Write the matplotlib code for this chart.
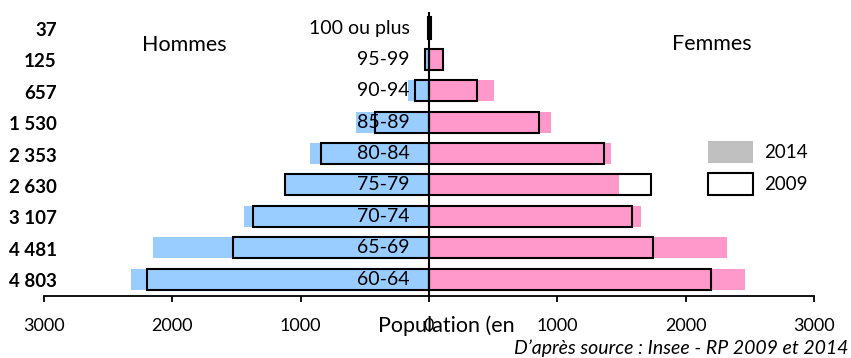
import matplotlib.pyplot as plt
from matplotlib.patches import Patch

plt.rcParams['font.family'] = ['Lato', 'DejaVu Sans']

# data (milliers), de 60-64 vers le haut
ages = ['60-64', '65-69', '70-74', '75-79', '80-84', '85-89', '90-94', '95-99', '100 ou plus']
hommes_2014 = [2323, 2153, 1438, 1125, 925, 567, 161, 25, 8]
femmes_2014 = [2463, 2323, 1653, 1484, 1419, 953, 505, 105, 15]
hommes_2009 = [2194, 1526, 1368, 1120, 839, 420, 111, 31, 10]
femmes_2009 = [2194, 1746, 1585, 1727, 1367, 857, 375, 109, 12]
totaux = ['4 803', '4 481', '3 107', '2 630', '2 353', '1 530', '657', '125', '37']
xticks = [-3000, -2000, -1000, 0, 1000, 2000, 3000]

fig = plt.figure(figsize=(8.51, 3.58), dpi=100)
ax = fig.add_axes([44/851, 1-296/358, 770/851, 284/358])

y = list(range(len(ages)))
h = 0.67

# 2014 : remplissage
ax.barh(y, [-v for v in hommes_2014], height=h, color='#99CCFF', linewidth=0)
ax.barh(y, femmes_2014, height=h, color='#FF99CC', linewidth=0)
# 2009 : contour
ax.barh(y, [-v for v in hommes_2009], height=h, fill=False, edgecolor='black', linewidth=1.5)
ax.barh(y, femmes_2009, height=h, fill=False, edgecolor='black', linewidth=1.5)

ax.axvline(0, color='black', linewidth=1.5)

for i, a in enumerate(ages):
    ax.text(-150, i, a, ha='right', va='center', fontsize=14)
for i, t in enumerate(totaux):
    ax.text(-2900, i - 0.08, t, ha='right', va='center', fontsize=13.5, fontweight='bold')

ax.text(-1904, 7.45, 'Hommes', ha='center', va='center', fontsize=15.5)
ax.text(2207, 7.48, 'Femmes', ha='center', va='center', fontsize=15.5)

ax.set_xlim(-3000, 3000)
ax.set_ylim(-0.54, 8.51)
ax.set_xticks(xticks)
ax.set_xticklabels([str(abs(v)) for v in xticks], fontsize=13)
ax.set_yticks([])
ax.tick_params(axis='x', direction='out', length=4.5, width=1.3, pad=11)
for s in ['left', 'right', 'top']:
    ax.spines[s].set_visible(False)
ax.spines['bottom'].set_linewidth(1.3)

handles = [Patch(facecolor='#C0C0C0', edgecolor='none', label='2014'),
           Patch(facecolor='white', edgecolor='black', linewidth=1.5, label='2009')]
ax.legend(handles=handles, loc='upper left', bbox_to_anchor=(708/851, 1-141/358),
          bbox_transform=fig.transFigure, frameon=False, fontsize=13.5,
          handlelength=2.4, handleheight=1.4, handletextpad=0.6, labelspacing=0.55,
          borderaxespad=0, borderpad=0)

fig.text(378/851, 1-326/358, 'Population (en', ha='left', va='center', fontsize=15.5)
fig.text(848/851, 1-348/358, 'D’après source : Insee - RP 2009 et 2014',
         ha='right', va='center', fontsize=14, style='italic')

fig.savefig('out.png', dpi=100)
